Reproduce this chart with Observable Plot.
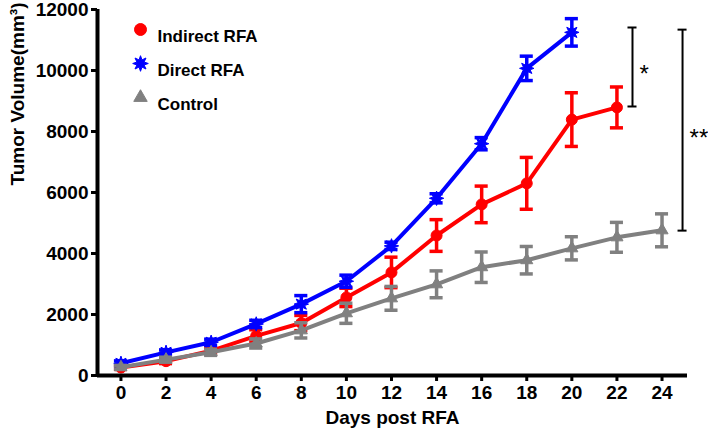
<!DOCTYPE html>
<html><head><meta charset="utf-8">
<script src="https://cdn.jsdelivr.net/npm/d3@7"></script>
<script src="https://cdn.jsdelivr.net/npm/@observablehq/plot@0.6"></script>
<style>body{margin:0;background:#fff}</style>
</head><body><div id="chart"></div>
<script>
// ---- data ----
const seriesNames = ["Indirect RFA", "Direct RFA", "Control"];
const seriesColors = ["#ff0000", "#0000ff", "#808080"];

const indirectDays = [0, 2, 4, 6, 8, 10, 12, 14, 16, 18, 20, 22];
const indirectMean = [260, 470, 810, 1300, 1720, 2560, 3380, 4590, 5610, 6300, 8390, 8790];
const indirectErr  = [60, 80, 100, 200, 250, 300, 500, 520, 600, 850, 880, 670];

const directDays = [0, 2, 4, 6, 8, 10, 12, 14, 16, 18, 20];
const directMean = [400, 760, 1090, 1690, 2340, 3090, 4250, 5810, 7600, 10070, 11250];
const directErr  = [80, 80, 100, 120, 280, 200, 120, 150, 200, 400, 450];

const controlDays = [0, 2, 4, 6, 8, 10, 12, 14, 16, 18, 20, 22, 24];
const controlMean = [270, 520, 760, 1050, 1480, 2040, 2530, 2990, 3550, 3780, 4170, 4530, 4760];
const controlErr  = [60, 80, 100, 150, 250, 330, 390, 440, 500, 450, 380, 490, 540];

const xTicks = [0, 2, 4, 6, 8, 10, 12, 14, 16, 18, 20, 22, 24];
const yTicks = [0, 2000, 4000, 6000, 8000, 10000, 12000];

// significance brackets
const sigDay    = [22.69, 24.91];
const sigTop    = [11410, 11340];
const sigBottom = [8820, 4750];
const sigMid    = [10070, 7960];
const sigLabel  = ["*", "**"];

// ---- build tables ----
const raw = [
  [indirectDays, indirectMean, indirectErr],
  [directDays, directMean, directErr],
  [controlDays, controlMean, controlErr]
];
const series = raw.map(([days, mean, err], s) =>
  days.map((day, i) => ({series: seriesNames[s], day, mean: mean[i], err: err[i]})));
const sig = sigDay.map((day, i) => ({day, top: sigTop[i], bottom: sigBottom[i], mid: sigMid[i], label: sigLabel[i]}));

const starSymbol = {
  draw(ctx, size) {
    const R = Math.sqrt(size / Math.PI) * 1.2, r = R * 0.5, n = 8;
    for (let i = 0; i < 2 * n; i++) {
      const a = i * Math.PI / n - Math.PI / 2, rr = i % 2 ? r : R;
      const x = rr * Math.cos(a), y = rr * Math.sin(a);
      i ? ctx.lineTo(x, y) : ctx.moveTo(x, y);
    }
    ctx.closePath();
  }
};
const symbols = ["circle", starSymbol, "triangle"];
const radii = [5.5, 6, 4.5];

const capW = 0.29; // half-width of error caps, in days
const font = "'Liberation Sans', Arial, Helvetica, sans-serif";

const marks = [];
series.forEach((data, s) => {
  const c = seriesColors[s];
  marks.push(
    Plot.ruleX(data, {x: "day", y1: d => d.mean - d.err, y2: d => d.mean + d.err, stroke: c, strokeWidth: 3.5}),
    Plot.ruleY(data, {y: d => d.mean + d.err, x1: d => d.day - capW, x2: d => d.day + capW, stroke: c, strokeWidth: 3.5}),
    Plot.ruleY(data, {y: d => d.mean - d.err, x1: d => d.day - capW, x2: d => d.day + capW, stroke: c, strokeWidth: 3.5}),
    Plot.line(data, {x: "day", y: "mean", stroke: c, strokeWidth: 4}),
    Plot.dot(data, {x: "day", y: "mean", fill: c, stroke: c, strokeWidth: 1, r: radii[s], symbol: symbols[s]})
  );
  // legend
  marks.push(
    Plot.dot([seriesNames[s]], {frameAnchor: "top-left", dx: 43, dy: 20 + 34 * s, fill: c, stroke: c, strokeWidth: 1, r: radii[s] + 0.5, symbol: symbols[s]}),
    Plot.text([seriesNames[s]], {frameAnchor: "top-left", dx: 60, dy: 20 + 34 * s, text: d => d, textAnchor: "start", fontSize: 17, fontWeight: "bold", fill: "black"})
  );
});

marks.push(
  Plot.ruleX(sig, {x: "day", y1: "bottom", y2: "top", stroke: "black", strokeWidth: 2}),
  Plot.ruleY(sig, {y: "top", x1: d => d.day - 0.2, x2: d => d.day + 0.2, stroke: "black", strokeWidth: 2}),
  Plot.ruleY(sig, {y: "bottom", x1: d => d.day - 0.2, x2: d => d.day + 0.2, stroke: "black", strokeWidth: 2}),
  Plot.text(sig, {x: "day", y: "mid", text: "label", textAnchor: "start", dx: 7, dy: 6, fontSize: 24, fontWeight: "normal", fill: "black"})
);

marks.push(
  Plot.axisX({ticks: xTicks, tickSize: 6, tickPadding: 4, strokeWidth: 3, fontSize: 19, fontWeight: "bold", label: null}),
  Plot.axisY({ticks: yTicks, tickSize: 6, tickPadding: 3, strokeWidth: 3, fontSize: 19, fontWeight: "bold", tickFormat: d3.format("d"), label: null}),
  Plot.ruleY([0], {stroke: "black", strokeWidth: 4}),
  Plot.ruleX([-1.04], {stroke: "black", strokeWidth: 4}),
  Plot.text(["Days post RFA"], {frameAnchor: "bottom", dy: 48, text: d => d, fontSize: 19, fontWeight: "bold", fill: "black"}),
  Plot.text(["Tumor Volume(mm³)"], {frameAnchor: "left", dx: -80, dy: -7, rotate: -90, text: d => d, fontSize: 19, fontWeight: "bold", fill: "black"})
);

const chart = Plot.plot({
  width: 708,
  height: 437,
  marginLeft: 97,
  marginRight: 21,
  marginTop: 9,
  marginBottom: 62,
  x: {domain: [-1.04, 25.13]},
  y: {domain: [0, 12000]},
  style: {fontFamily: font, fontSize: "19px", color: "black", background: "white", overflow: "visible"},
  marks
});
document.getElementById("chart").appendChild(chart);
</script>
</body></html>
